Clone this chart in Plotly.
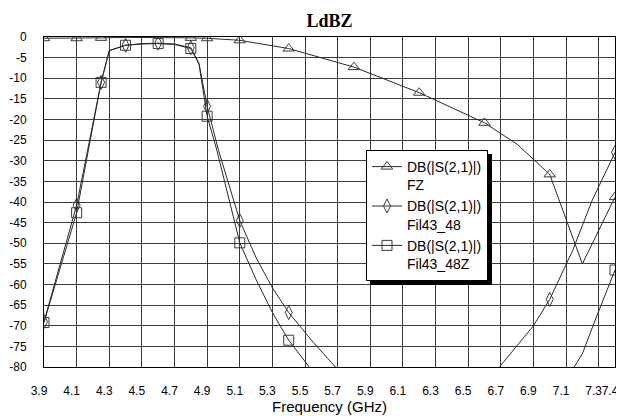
import plotly.graph_objects as go

# ---- data (frequency in GHz, magnitude in dB) ----
fz_freq = [3.9, 4.1, 4.25, 4.4, 4.6, 4.8, 4.9, 5.1, 5.4, 5.8, 6.2, 6.6, 6.8, 7.0, 7.2, 7.4]
fz_db = [-0.3, -0.3, -0.2, -0.1, -0.1, -0.2, -0.3, -0.8, -2.8, -7.3, -13.5, -20.8, -26.0, -33.3, -55.0, -38.8]
fz_marker_idx = [0, 1, 2, 5, 6, 7, 8, 9, 10, 11, 13, 15]

f48_freq = [3.9, 4.1, 4.25, 4.3, 4.4, 4.5, 4.6, 4.7, 4.8, 4.85, 4.9, 4.97, 5.1, 5.2, 5.3,
            5.4, 5.55, 5.7, 5.8, 6.6, 6.7, 6.9, 7.0, 7.14, 7.26, 7.4]
f48_db = [-69.0, -40.8, -11.0, -3.3, -2.0, -1.6, -1.5, -1.7, -2.6, -6.4, -16.8, -27.5, -44.5, -53.5, -60.8,
          -66.8, -74.0, -80.8, -85.0, -86.0, -79.6, -70.0, -63.6, -51.8, -39.6, -28.0]
f48_marker_idx = [0, 1, 2, 4, 6, 8, 10, 12, 15, 18, 19, 22, 25]

f48z_freq = [3.9, 4.1, 4.25, 4.3, 4.4, 4.5, 4.6, 4.7, 4.8, 4.85, 4.9, 4.96, 5.1, 5.2, 5.3, 5.4,
             5.53, 5.6, 7.0, 7.15, 7.2, 7.27, 7.4]
f48z_db = [-69.2, -42.6, -11.0, -3.3, -2.0, -1.7, -1.6, -1.8, -2.8, -6.6, -19.2, -27.5, -49.9, -58.8, -66.8, -73.5,
           -80.2, -84.0, -86.0, -80.0, -76.8, -69.5, -56.5]
f48z_marker_idx = [0, 1, 2, 4, 6, 8, 10, 12, 15, 18, 22]

series_names = ["DB(|S(2,1)|)<br>FZ", "DB(|S(2,1)|)<br>Fil43_48", "DB(|S(2,1)|)<br>Fil43_48Z"]

x_tickvals = [3.9, 4.1, 4.3, 4.5, 4.7, 4.9, 5.1, 5.3, 5.5, 5.7, 5.9, 6.1, 6.3, 6.5, 6.7, 6.9, 7.1, 7.3, 7.4]
x_ticktext = ["3.9", "4.1", "4.3", "4.5", "4.7", "4.9", "5.1", "5.3", "5.5", "5.7", "5.9", "6.1", "6.3",
              "6.5", "6.7", "6.9", "7.1", "7.3", "7.4"]
y_tickvals = [0, -5, -10, -15, -20, -25, -30, -35, -40, -45, -50, -55, -60, -65, -70, -75, -80]
y_ticktext = ["0", "-5", "-10", "-15", "-20", "-25", "-30", "-35", "-40", "-45", "-50", "-55", "-60",
              "-65", "-70", "-75", "-80"]

# ---- styles ----
LINE_COLOR = "#2a2a2a"
MARK_COLOR = "#3a3a3a"
symbols = ["triangle-up-open", "diamond-tall-open", "square-open"]
msizes = [10, 10, 10]

# The page body has an 8px default margin; the figure is placed so that the
# plot area lands at the intended page positions.
OFF = 8
W, H = 624 - OFF, 416 - OFF
ML, MR, MT, MB = 36, 9, 29, 49
PW, PH = W - ML - MR, H - MT - MB

fig = go.Figure()

data = [(fz_freq, fz_db, fz_marker_idx), (f48_freq, f48_db, f48_marker_idx), (f48z_freq, f48z_db, f48z_marker_idx)]
for k, (fx, fy, idx) in enumerate(data):
    fig.add_trace(go.Scatter(x=fx, y=fy, mode="lines", line=dict(color=LINE_COLOR, width=1),
                             showlegend=False, hoverinfo="skip"))
    fig.add_trace(go.Scatter(x=[fx[i] for i in idx], y=[fy[i] for i in idx], mode="markers",
                             marker=dict(symbol=symbols[k], size=msizes[k], color=MARK_COLOR,
                                         line=dict(width=1, color=MARK_COLOR)),
                             showlegend=False))
for k in range(3):
    fig.add_trace(go.Scatter(x=[None], y=[None], mode="lines+markers", name=series_names[k],
                             line=dict(color=LINE_COLOR, width=1),
                             marker=dict(symbol=symbols[k], size=msizes[k], color=MARK_COLOR,
                                         line=dict(width=1, color=MARK_COLOR))))

# legend box (page px) and its shadow
LEG_L, LEG_T, LEG_W, LEG_H, SH = 366, 150, 122, 131, 4

def px_x(p):
    return (p - OFF - ML) / PW

def px_y(p):
    return 1 - (p - OFF - MT) / PH

GRID = "#3c3c3c"
fig.update_layout(
    width=W, height=H,
    margin=dict(l=ML, r=MR, t=MT, b=MB, autoexpand=False),
    paper_bgcolor="white", plot_bgcolor="white",
    title=dict(text="<b>LdBZ</b>", x=0.5, xref="paper", y=1 - (20.7 - OFF) / H, yanchor="middle",
               font=dict(family="Liberation Serif, Times New Roman, serif", size=18, color="black")),
    font=dict(family="Liberation Sans, Arial, sans-serif", size=12, color="black"),
    xaxis=dict(range=[3.9, 7.4], tickmode="array", tickvals=x_tickvals, ticktext=x_ticktext,
               tickangle=0, automargin=False, ticklabelshift=-5,
               showgrid=True, gridcolor=GRID, gridwidth=1, zeroline=False,
               showline=True, linecolor="black", linewidth=1, mirror=True,
               ticks="", ticklabelstandoff=13,
               tickfont=dict(size=12),
               title=dict(text="Frequency (GHz)", font=dict(size=15), standoff=4)),
    yaxis=dict(range=[-80, 0], tickmode="array", tickvals=y_tickvals, ticktext=y_ticktext,
               automargin=False,
               showgrid=True, gridcolor=GRID, gridwidth=1, zeroline=False,
               showline=True, linecolor="black", linewidth=1, mirror=True,
               ticks="", ticklabelstandoff=14, tickfont=dict(size=12)),
    legend=dict(x=px_x(LEG_L), y=px_y(LEG_T), xanchor="left", yanchor="top",
                bgcolor="white", bordercolor="black", borderwidth=1,
                font=dict(size=14, color="black"), valign="top", itemwidth=30,
                tracegroupgap=0),
    shapes=[dict(type="rect", xref="paper", yref="paper", layer="above",
                 x0=px_x(LEG_L + SH), x1=px_x(LEG_L + LEG_W + SH),
                 y0=px_y(LEG_T + LEG_H + SH), y1=px_y(LEG_T + SH),
                 fillcolor="black", line=dict(width=0))],
)

fig.write_html("out.html")
